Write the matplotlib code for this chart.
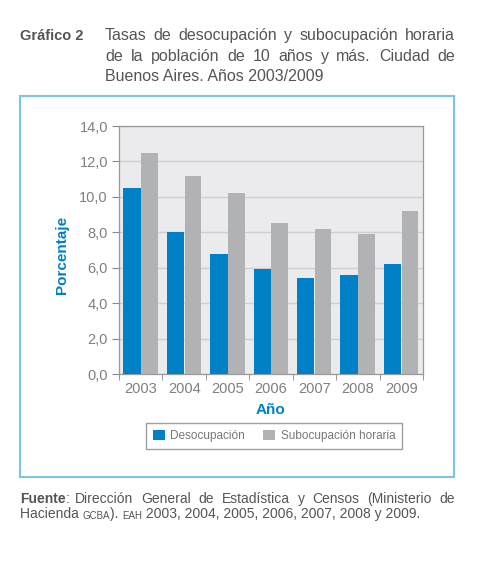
import numpy as np
import matplotlib
matplotlib.use("Agg")
import matplotlib.pyplot as plt
from matplotlib.patches import Rectangle

# Datos
years = ["2003", "2004", "2005", "2006", "2007", "2008", "2009"]
desocupacion = [10.5, 8.0, 6.8, 5.9, 5.4, 5.6, 6.2]
subocupacion = [12.5, 11.2, 10.2, 8.5, 8.2, 7.9, 9.2]
yticks = [0, 2, 4, 6, 8, 10, 12, 14]

BLUE = "#0080C6"
GREY = "#B1B2B4"
TXT = "#555555"
plt.rcParams["font.family"] = ["Liberation Sans", "DejaVu Sans"]

W, H = 482, 567
fig = plt.figure(figsize=(W / 100, H / 100), dpi=100)
renderer = fig.canvas.get_renderer()


def fx(px):
    return px / W


def fy(py):
    return 1 - py / H


def justified(x0, x1, y, words, **kw):
    # place words so the line spans exactly x0..x1 (pixels)
    texts = [fig.text(0, fy(y), w, va="baseline", **kw) for w in words]
    widths = [t.get_window_extent(renderer).width for t in texts]
    gap = (x1 - x0 - sum(widths)) / max(len(words) - 1, 1)
    pos = x0
    for t, w in zip(texts, widths):
        t.set_x(fx(pos))
        pos += w + gap
    return texts


# outer blue frame
fig.patches.append(Rectangle((fx(20), fy(477)), fx(454) - fx(20), fy(96) - fy(477),
                             transform=fig.transFigure, fill=False,
                             edgecolor="#7CC3E8", linewidth=1.5))

# title
fig.text(fx(20), fy(40), "Gráfico 2", fontsize=10.5, fontweight="bold",
         color=TXT, va="baseline")
justified(105, 455, 40, "Tasas de desocupación y subocupación horaria".split(),
          fontsize=11.5, color=TXT)
justified(105, 455, 61, "de la población de 10 años y más. Ciudad de".split(),
          fontsize=11.5, color=TXT)
fig.text(fx(105), fy(81), "Buenos Aires. Años 2003/2009", fontsize=11.5, color=TXT,
         va="baseline")

# chart
ax = fig.add_axes([fx(119), fy(374), fx(423) - fx(119), fy(126) - fy(374)])
ax.set_facecolor("#EBEBED")
x = np.arange(len(years))
ax.bar(x - 0.2, desocupacion, width=0.4, color=BLUE, zorder=3, label="Desocupación")
ax.bar(x + 0.2, subocupacion, width=0.38, color=GREY, zorder=3,
       label="Subocupación horaria")

ax.set_ylim(0, 14)
ax.set_xlim(-0.5, len(years) - 0.5)
ax.set_yticks(yticks)
ax.set_yticklabels([f"{v:.1f}".replace(".", ",") for v in yticks])
ax.set_xticks(x)
ax.set_xticklabels(years)
ax.set_xticks(np.arange(-0.5, len(years)), minor=True)
ax.tick_params(axis="x", which="major", length=0, labelsize=10.5, colors="#808080", pad=6)
ax.tick_params(axis="x", which="minor", length=4, color="#888888", direction="out")
ax.tick_params(axis="y", length=5, color="#888888", labelsize=10.5, labelcolor="#808080", pad=3)
ax.grid(axis="y", color="#CFCFD1", linewidth=1, zorder=0)
for s in ax.spines.values():
    s.set_color("#999999")
    s.set_linewidth(0.9)

fig.text(fx(62), fy(255), "Porcentaje", rotation=90, fontsize=11, fontweight="bold",
         color=BLUE, ha="center", va="center")
fig.text(fx(271), fy(410), "Año", fontsize=11, fontweight="bold", color=BLUE,
         ha="center", va="center")

leg = fig.legend(loc="center", bbox_to_anchor=(fx(274), fy(436)), ncol=2,
                 fontsize=8.5, frameon=True, fancybox=False, edgecolor="#888888",
                 handlelength=1.0, handleheight=1.0, handletextpad=0.5,
                 columnspacing=1.5, borderpad=0.6)
leg.get_frame().set_linewidth(1.0)
for t in leg.get_texts():
    t.set_color("#777777")

# footer
f1 = justified(20, 455, 503,
               ["Fuente:", "Dirección", "General", "de", "Estadística", "y", "Censos",
                "(Ministerio", "de"], fontsize=10, color=TXT)
# "Fuente" en negrita, los dos puntos normales
f1[0].set_text("Fuente")
f1[0].set_fontweight("bold")
ax.annotate(":", xy=(1, 0), xycoords=f1[0], fontsize=10, color=TXT, va="bottom",
            annotation_clip=False)

f2 = fig.text(fx(20), fy(518), "Hacienda ", fontsize=10, color=TXT, va="baseline")
f2b = ax.annotate("GCBA", xy=(1, 0), xycoords=f2, fontsize=7, color=TXT, va="bottom",
                  annotation_clip=False)
f2c = ax.annotate("). ", xy=(1, 0), xycoords=f2b, fontsize=10, color=TXT, va="bottom",
                  annotation_clip=False)
f2d = ax.annotate("EAH", xy=(1, 0), xycoords=f2c, fontsize=7, color=TXT, va="bottom",
                  annotation_clip=False)
ax.annotate(" 2003, 2004, 2005, 2006, 2007, 2008 y 2009.", xy=(1, 0), xycoords=f2d,
            fontsize=10, color=TXT, va="bottom", annotation_clip=False)

fig.savefig("out.png", dpi=100)
